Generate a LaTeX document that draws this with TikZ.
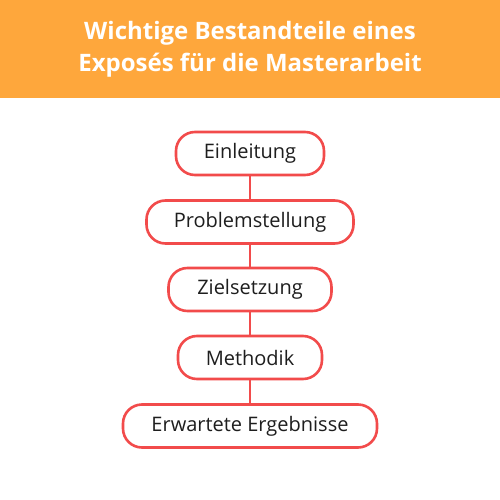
\documentclass[tikz,border=0pt]{standalone}
\usepackage{fontspec}
\setmainfont{Open Sans}
\definecolor{banner}{HTML}{FEA73C}
\definecolor{boxred}{HTML}{F24B4B}
\definecolor{txt}{HTML}{1E1E1E}
\begin{document}
\begin{tikzpicture}[x=1pt,y=-1pt,
  stepbox/.style={draw=boxred, line width=2.6pt, rounded corners=19pt, fill=white,
    minimum height=43pt, inner sep=0pt, text=txt, font=\fontsize{20}{24}\selectfont},
  link/.style={draw=boxred, line width=2.6pt}]
\useasboundingbox (0,0) rectangle (500,500);
\fill[banner] (0,0) rectangle (500,98);
\node[text=white, font=\bfseries\fontsize{24}{32}\selectfont, align=center] (title) at (250,49)
  {Wichtige Bestandteile eines\\Exposés für die Masterarbeit};
\node[stepbox, minimum width=148pt] (a) at (250,153.5) {Einleitung};
\node[stepbox, minimum width=207pt] (b) at (250,222) {Problemstellung};
\node[stepbox, minimum width=163pt] (c) at (250,289.5) {Zielsetzung};
\node[stepbox, minimum width=144pt] (d) at (250,357.5) {Methodik};
\node[stepbox, minimum width=254pt] (e) at (250,426) {Erwartete Ergebnisse};
\draw[link] (a) -- (b);
\draw[link] (b) -- (c);
\draw[link] (c) -- (d);
\draw[link] (d) -- (e);
\end{tikzpicture}
\end{document}
